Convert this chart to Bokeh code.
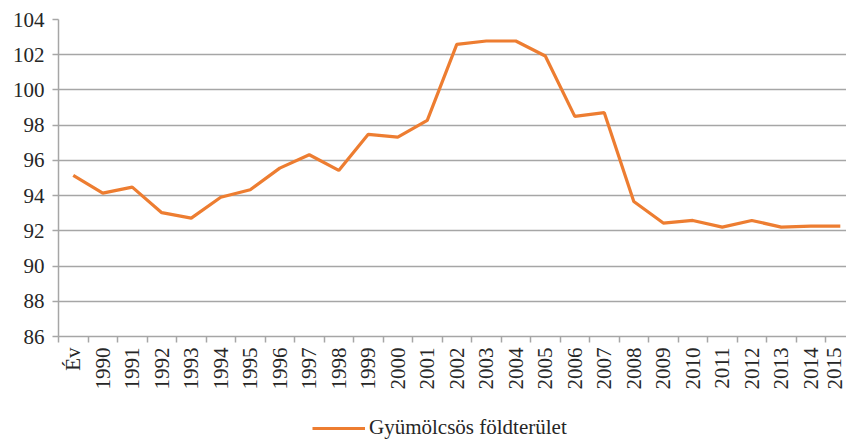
from bokeh.plotting import figure
from bokeh.layouts import column
from bokeh.models import Range1d, FixedTicker, Legend, LegendItem, ColumnDataSource
from bokeh.embed import file_html
from bokeh.resources import INLINE

categories = ["Év", "1990", "1991", "1992", "1993", "1994", "1995", "1996", "1997", "1998",
              "1999", "2000", "2001", "2002", "2003", "2004", "2005", "2006", "2007", "2008",
              "2009", "2010", "2011", "2012", "2013", "2014", "2015"]
values = [95.15, 94.14, 94.48, 93.03, 92.72, 93.91, 94.33, 95.56, 96.32, 95.43,
          97.48, 97.32, 98.27, 102.59, 102.78, 102.78, 101.93, 98.50, 98.71, 93.67,
          92.44, 92.59, 92.21, 92.59, 92.21, 92.27, 92.27]
y_ticks = [86, 88, 90, 92, 94, 96, 98, 100, 102, 104]
series_name = "Gyümölcsös földterület"

FONT = "Liberation Serif"
TEXT = "#262626"
GRID = "#a6a6a6"
ORANGE = "#ED7D31"

xs = [i + 0.5 for i in range(len(categories))]
src = ColumnDataSource(dict(x=xs, y=values))

p = figure(frame_width=788, frame_height=317, output_backend="svg", toolbar_location=None,
           x_range=Range1d(0, 26.71), y_range=Range1d(86, 104),
           min_border_left=58, min_border_right=0, min_border_top=19, min_border_bottom=64)
p.outline_line_color = None
p.background_fill_color = "white"

r = p.line("x", "y", source=src, line_color=ORANGE, line_width=3.2)

# x axis: labels at category centers, tick marks at category boundaries
xa = p.xaxis[0]
xa.ticker = FixedTicker(ticks=xs, minor_ticks=list(range(len(categories) + 1)))
xa.major_label_overrides = {x: c for x, c in zip(xs, categories)}
xa.major_tick_line_color = None
xa.minor_tick_line_color = GRID
xa.minor_tick_line_width = 1.5
xa.minor_tick_out = 6
xa.minor_tick_in = 0
xa.axis_line_color = GRID
xa.axis_line_width = 1.5
xa.major_label_orientation = 1.5708
xa.major_label_text_font = FONT
xa.major_label_text_font_size = "21px"
xa.major_label_text_color = TEXT
xa.major_label_standoff = 5

ya = p.yaxis[0]
ya.ticker = FixedTicker(ticks=y_ticks)
ya.minor_tick_line_color = None
ya.major_tick_line_color = GRID
ya.major_tick_line_width = 1.5
ya.major_tick_out = 6
ya.major_tick_in = 0
ya.axis_line_color = GRID
ya.axis_line_width = 1.5
ya.major_label_text_font = FONT
ya.major_label_text_font_size = "21px"
ya.major_label_text_color = TEXT
ya.major_label_standoff = 8

p.xgrid.visible = False
p.ygrid.grid_line_color = GRID
p.ygrid.grid_line_width = 1.5
p.ygrid.ticker = FixedTicker(ticks=y_ticks)

# legend strip below the chart (series drawn outside this strip's visible range,
# so only its legend sample shows)
pl = figure(width=846, height=40, output_backend="svg", toolbar_location=None,
            x_range=Range1d(0, 1), y_range=Range1d(0, 1),
            min_border=0, min_border_left=0, min_border_right=0,
            min_border_top=0, min_border_bottom=0)
pl.axis.visible = False
pl.grid.visible = False
pl.outline_line_color = None
rl = pl.line("x", "y", source=src, line_color=ORANGE, line_width=3.2)
legend = Legend(items=[LegendItem(label=series_name, renderers=[rl])],
                orientation="horizontal", location=(254, 0),
                label_text_font=FONT, label_text_font_size="21px", label_text_color=TEXT,
                glyph_width=53, glyph_height=22, label_height=22, label_standoff=4,
                border_line_color=None, background_fill_alpha=0, margin=0, padding=0)
pl.add_layout(legend, "center")

layout = column(p, pl, spacing=0)
open("out.html", "w").write(file_html(layout, INLINE))
